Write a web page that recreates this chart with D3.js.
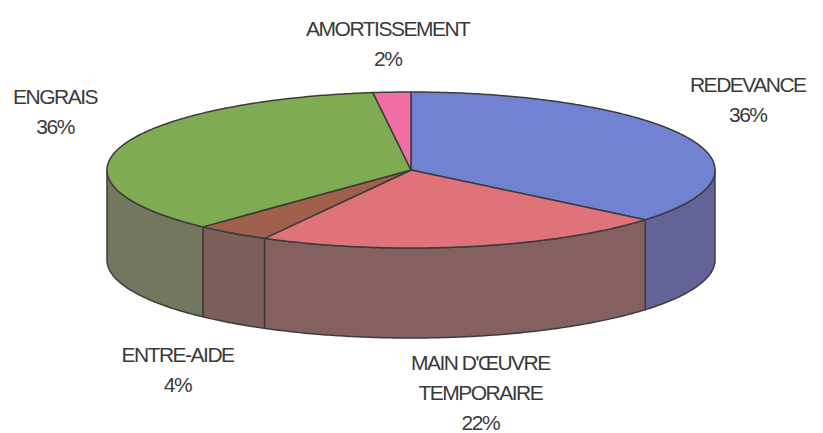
<!DOCTYPE html>
<html>
<head>
<meta charset="utf-8">
<script src="https://cdn.jsdelivr.net/npm/d3@7"></script>
<style>
  body { margin: 0; background: #fff; }
  text { font-family: "Liberation Sans", Arial, sans-serif; }
</style>
</head>
<body>
<div class="chart"></div>
<script>
// data
const categories = ["REDEVANCE", "MAIN D'ŒUVRE\nTEMPORAIRE", "ENTRE-AIDE", "ENGRAIS", "AMORTISSEMENT"];
const values = [36, 22, 4, 36, 2];
const pctLabels = ["36%", "22%", "4%", "36%", "2%"];

// colours: top face / side wall
const topColors = ["#7282d2", "#e0727a", "#a0604c", "#7fab52", "#f26fa6"];
const sideColors = ["#636399", "#84605f", "#7c5f59", "#72775e", "#a0507a"];
// label nudges (layout only)
const labelNudge = [[2, -13], [0, 0], [-16, 0], [-4, -17], [0, 8]];

const w = 823, h = 433;
const cx = 411, cy = 170, rx = 304, ry = 78, depth = 90;
const lrx = 370, lry = 135;

const svg = d3.select(".chart").append("svg")
  .attr("width", w).attr("height", h);

const pie = d3.pie().sort(null).value(d => d)(values);

// point on the ellipse for angle a (clockwise from 12 o'clock)
const px = a => cx + rx * Math.sin(a);
const py = (a, dz) => cy - ry * Math.cos(a) + dz;

function arcPts(a0, a1, dz) {
  const n = Math.max(2, Math.ceil((a1 - a0) / 0.01));
  return d3.range(n + 1).map(i => {
    const a = a0 + (a1 - a0) * i / n;
    return [px(a), py(a, dz)];
  });
}

const line = d3.line();

// side walls (front half only)
const front0 = Math.PI / 2, front1 = 3 * Math.PI / 2;
pie.forEach((d, i) => {
  const a0 = Math.max(d.startAngle, front0), a1 = Math.min(d.endAngle, front1);
  if (a1 <= a0) return;
  const pts = arcPts(a0, a1, 0).concat(arcPts(a0, a1, depth).reverse());
  svg.append("path")
    .attr("d", line(pts) + "Z")
    .attr("fill", sideColors[i])
    .attr("stroke", "#3c3c3c")
    .attr("stroke-width", 1.5)
    .attr("stroke-linejoin", "round");
});

// top faces
pie.forEach((d, i) => {
  const pts = [[cx, cy]].concat(arcPts(d.startAngle, d.endAngle, 0));
  svg.append("path")
    .attr("d", line(pts) + "Z")
    .attr("fill", topColors[i])
    .attr("stroke", "#3c3c3c")
    .attr("stroke-width", 1.5)
    .attr("stroke-linejoin", "round");
});

// labels
pie.forEach((d, i) => {
  const mid = (d.startAngle + d.endAngle) / 2;
  const front = Math.cos(mid) < 0 ? depth : 0;
  const x = cx + lrx * Math.sin(mid) + labelNudge[i][0];
  const y = cy - lry * Math.cos(mid) + front + labelNudge[i][1];
  const lines = categories[i].split("\n").concat([pctLabels[i]]);
  const t = svg.append("text")
    .attr("text-anchor", "middle")
    .attr("fill", "#3a3a3a")
    .attr("font-size", 21)
    .attr("letter-spacing", -1.5);
  lines.forEach((s, k) => {
    t.append("tspan")
      .attr("x", x)
      .attr("y", y + (k - (lines.length - 1) / 2) * 30)
      .attr("dy", "0.36em")
      .text(s);
  });
});
</script>
</body>
</html>
